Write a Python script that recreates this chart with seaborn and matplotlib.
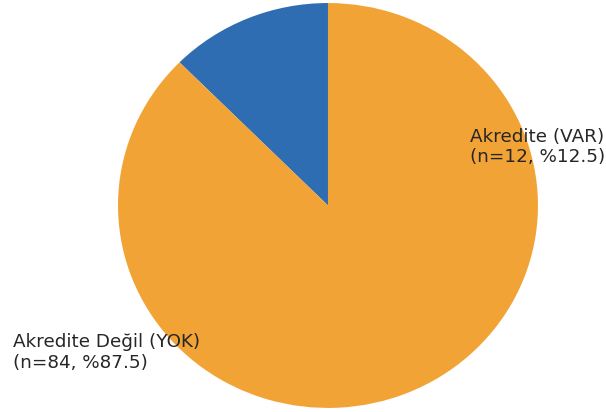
import matplotlib
matplotlib.use("Agg")
import matplotlib.pyplot as plt
import seaborn as sns

# data
categories = ["Akredite (VAR)", "Akredite Değil (YOK)"]
counts = [12, 84]
colors = ["#2f6db3", "#f2a336"]

total = sum(counts)
labels = [f"{c}\n(n={n}, %{n / total * 100:.1f})" for c, n in zip(categories, counts)]

sns.set_theme(style="white")
plt.rcParams['font.family'] = ['DejaVu Sans']

fig = plt.figure(figsize=(6.06, 4.12), dpi=100)
ax = fig.add_axes([0, 0, 1, 1])
ax.pie(counts, colors=colors, startangle=90, counterclock=True,
       wedgeprops=dict(linewidth=0))
ax.set_aspect("auto")
ax.set_xlim(-1.562, 1.324)
ax.set_ylim(-1.02, 1.015)
ax.axis("off")

ax.text(0.676, 0.289, labels[0], ha="left", va="center", fontsize=13.2, color="#262626")
ax.text(-1.50, -0.728, labels[1], ha="left", va="center", fontsize=13.2, color="#262626")

fig.savefig("out.png", dpi=100)
plt.close(fig)
